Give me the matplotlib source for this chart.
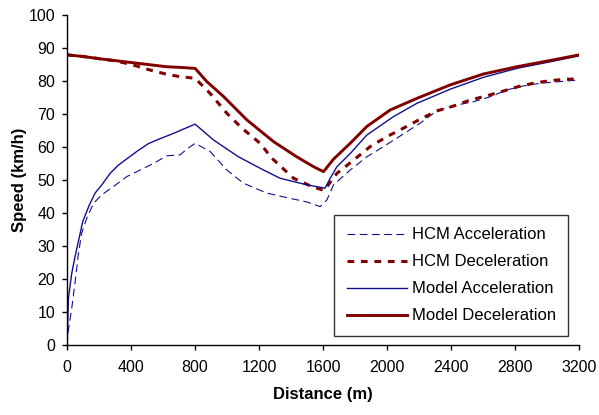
import matplotlib
matplotlib.use("Agg")
import matplotlib.pyplot as plt

plt.rcParams['font.family'] = ['Liberation Sans', 'DejaVu Sans']

# HCM Acceleration (dashed blue)
hcm_acc_d = [0, 8, 29, 50, 71, 91, 123, 165, 217, 290, 373, 456, 540, 623, 706, 748, 800,
             894, 998, 1102, 1248, 1394, 1500, 1581, 1623, 1665, 1769, 1873, 1977, 2081, 2206,
             2310, 2435, 2540, 2644, 2748, 2852, 2956, 3081, 3200]
hcm_acc_v = [0, 4.5, 11, 19, 27.7, 33.8, 38.4, 42.9, 45.5, 48, 51, 53, 55, 57.3, 57.6, 59.3, 61.1,
             58.6, 53, 49, 46, 44.4, 43.3, 41.9, 43.9, 48.5, 53, 57, 60.1, 63.3, 67.2,
             70.9, 72.7, 73.7, 75.2, 77.3, 78.5, 79.3, 79.8, 80.3]

# HCM Deceleration (dashed red)
hcm_dec_d = [0, 102, 206, 300, 400, 519, 623, 706, 800, 894, 998, 1092, 1206, 1279, 1415, 1529,
             1606, 1686, 1790, 1894, 1998, 2102, 2206, 2310, 2415, 2519, 2623, 2717, 2821, 2915,
             3019, 3123, 3200]
hcm_dec_v = [87.9, 87.4, 86.7, 86.1, 85, 83.3, 82, 81.3, 80.8, 76.2, 70.2, 65.7, 61.1, 56.6, 50.5, 48,
             46.8, 52, 56, 60.1, 63.1, 65.7, 68.4, 70.9, 72.4, 74.2, 75.5, 76.8, 78.3, 79.3,
             80.1, 80.5, 80.6]

# Model Acceleration (solid blue)
mod_acc_d = [0, 3, 8, 29, 50, 98, 139, 175, 217, 269, 321, 435, 508, 571, 665, 727, 800,
             915, 1071, 1227, 1331, 1498, 1612, 1644, 1686, 1769, 1873, 2040, 2185, 2394, 2602,
             2810, 3019, 3200]
mod_acc_v = [0, 4.5, 14, 21.7, 26.8, 37.4, 42.4, 46, 48.5, 52, 54.5, 58.6, 61, 62.3, 64.1, 65.4, 66.9,
             62.1, 57, 53, 50.5, 48.5, 47.5, 50.5, 54, 58, 63.6, 69.2, 73.2, 77.5, 81.1,
             83.8, 85.8, 87.6]

# Model Deceleration (solid red)
mod_dec_d = [0, 102, 206, 414, 623, 706, 800, 873, 977, 1123, 1290, 1435, 1540, 1602, 1665, 1769,
             1873, 2019, 2185, 2394, 2602, 2810, 3019, 3200]
mod_dec_v = [87.9, 87.4, 86.7, 85.5, 84.3, 84.1, 83.8, 79.8, 75.3, 68.2, 61.6, 57, 54, 52.5, 56.3, 61.1,
             66.2, 71.2, 74.7, 78.8, 82.1, 84.3, 86.2, 87.9]

x_ticks = [0, 400, 800, 1200, 1600, 2000, 2400, 2800, 3200]
y_ticks = [0, 10, 20, 30, 40, 50, 60, 70, 80, 90, 100]

blue = '#10108c'
red = '#800000'

fig = plt.figure(figsize=(5.99, 4.15), dpi=100)
ax = fig.add_axes([0.112, 0.169, 0.855, 0.795])

ax.plot(hcm_acc_d, hcm_acc_v, color=blue, lw=0.8, dashes=(7, 4), label='HCM Acceleration')
ax.plot(hcm_dec_d, hcm_dec_v, color=red, lw=2.2, dashes=(2.2, 2.2), label='HCM Deceleration')
ax.plot(mod_acc_d, mod_acc_v, color=blue, lw=1.0, label='Model Acceleration')
ax.plot(mod_dec_d, mod_dec_v, color=red, lw=2.1, label='Model Deceleration')

ax.set_xlim(0, 3200)
ax.set_ylim(0, 100)
ax.set_xticks(x_ticks)
ax.set_yticks(y_ticks)
ax.tick_params(axis='both', direction='out', length=3.6, width=1, labelsize=11.5)
ax.tick_params(axis='x', pad=7)
ax.tick_params(axis='y', pad=5)
for s in ['top', 'right']:
    ax.spines[s].set_visible(False)
for s in ['left', 'bottom']:
    ax.spines[s].set_linewidth(1)

ax.set_xlabel('Distance (m)', fontsize=12, fontweight='bold', labelpad=9)
ax.set_ylabel('Speed (km/h)', fontsize=12, fontweight='bold', labelpad=1)

leg = ax.legend(loc='lower right', bbox_to_anchor=(0.9785, 0.027), fontsize=12, frameon=True,
                fancybox=False, edgecolor='black', handlelength=3.6, handletextpad=0.3,
                labelspacing=0.72, borderpad=0.75, borderaxespad=0)
leg.get_frame().set_linewidth(1)

fig.savefig('out.png', dpi=100)
